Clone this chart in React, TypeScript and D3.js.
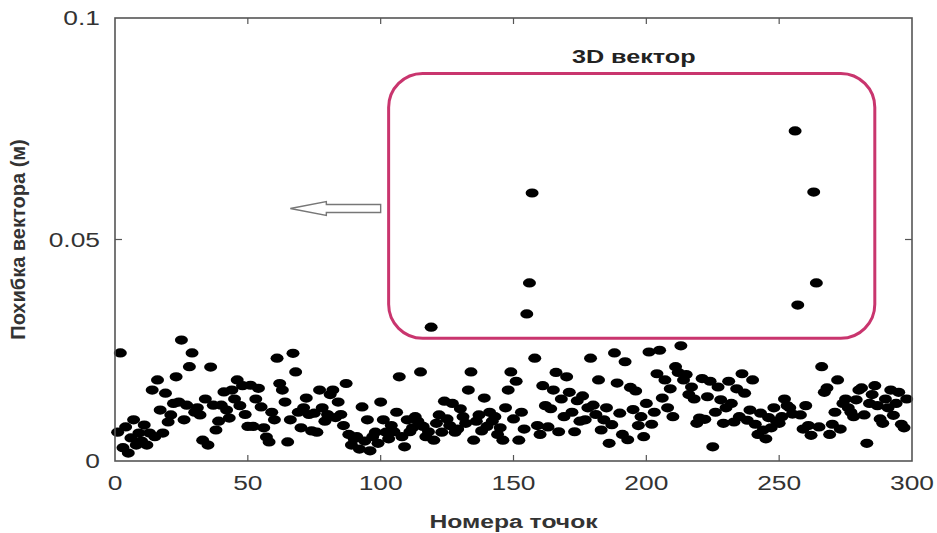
import * as d3 from "d3";
import React from "react";

// point numbers are 1..N, one error value (m) per point
const errors: number[] = [
  0.0065, 0.0244, 0.0030, 0.0077, 0.0018, 0.0052, 0.0093, 0.0036, 0.0063, 0.0045,
  0.0081, 0.0036, 0.0063, 0.0160, 0.0055, 0.0183, 0.0115, 0.0063, 0.0153, 0.0088,
  0.0104, 0.0130, 0.0190, 0.0133, 0.0273, 0.0093, 0.0126, 0.0213, 0.0244, 0.0110,
  0.0120, 0.0104, 0.0047, 0.0140, 0.0036, 0.0212, 0.0126, 0.0070, 0.0090, 0.0126,
  0.0156, 0.0115, 0.0097, 0.0160, 0.0140, 0.0183, 0.0125, 0.0170, 0.0105, 0.0078,
  0.0171, 0.0078, 0.0140, 0.0164, 0.0122, 0.0075, 0.0054, 0.0043, 0.0110, 0.0093,
  0.0232, 0.0175, 0.0160, 0.0133, 0.0043, 0.0093, 0.0243, 0.0201, 0.0110, 0.0075,
  0.0120, 0.0142, 0.0105, 0.0068, 0.0108, 0.0065, 0.0160, 0.0120, 0.0090, 0.0105,
  0.0150, 0.0160, 0.0098, 0.0133, 0.0105, 0.0080, 0.0175, 0.0060, 0.0036, 0.0050,
  0.0055, 0.0027, 0.0122, 0.0045, 0.0093, 0.0023, 0.0055, 0.0065, 0.0040, 0.0133,
  0.0093, 0.0065, 0.0050, 0.0080, 0.0066, 0.0110, 0.0190, 0.0055, 0.0032, 0.0093,
  0.0066, 0.0075, 0.0100, 0.0090, 0.0201, 0.0078, 0.0055, 0.0066, 0.0302, 0.0047,
  0.0085, 0.0104, 0.0065, 0.0135, 0.0095, 0.0080, 0.0130, 0.0065, 0.0072, 0.0118,
  0.0100, 0.0085, 0.0160, 0.0201, 0.0047, 0.0090, 0.0104, 0.0068, 0.0142, 0.0078,
  0.0110, 0.0090, 0.0100, 0.0060, 0.0075, 0.0047, 0.0120, 0.0160, 0.0201, 0.0095,
  0.0180, 0.0047, 0.0110, 0.0072, 0.0332, 0.0402, 0.0605, 0.0232, 0.0080, 0.0060,
  0.0170, 0.0125, 0.0077, 0.0118, 0.0160, 0.0200, 0.0066, 0.0140, 0.0100, 0.0190,
  0.0155, 0.0110, 0.0066, 0.0136, 0.0090, 0.0147, 0.0093, 0.0120, 0.0232, 0.0126,
  0.0105, 0.0183, 0.0070, 0.0093, 0.0120, 0.0040, 0.0082, 0.0244, 0.0176, 0.0108,
  0.0060, 0.0224, 0.0048, 0.0166, 0.0116, 0.0158, 0.0080, 0.0100, 0.0055, 0.0130,
  0.0246, 0.0083, 0.0110, 0.0197, 0.0250, 0.0142, 0.0183, 0.0120, 0.0163, 0.0100,
  0.0213, 0.0200, 0.0260, 0.0183, 0.0195, 0.0150, 0.0167, 0.0140, 0.0085, 0.0097,
  0.0186, 0.0094, 0.0145, 0.0180, 0.0032, 0.0110, 0.0167, 0.0138, 0.0085, 0.0120,
  0.0180, 0.0130, 0.0088, 0.0163, 0.0100, 0.0197, 0.0153, 0.0092, 0.0115, 0.0183,
  0.0083, 0.0060, 0.0108, 0.0070, 0.0050, 0.0098, 0.0075, 0.0120, 0.0090, 0.0085,
  0.0100, 0.0140, 0.0125, 0.0120, 0.0106, 0.0745, 0.0352, 0.0104, 0.0072, 0.0125,
  0.0080, 0.0058, 0.0607, 0.0402, 0.0077, 0.0213, 0.0155, 0.0165, 0.0060, 0.0083,
  0.0110, 0.0183, 0.0072, 0.0130, 0.0140, 0.0120, 0.0110, 0.0100, 0.0138, 0.0160,
  0.0165, 0.0104, 0.0040, 0.0130, 0.0150, 0.0170, 0.0125, 0.0095, 0.0085, 0.0140,
  0.0120, 0.0160, 0.0103, 0.0130, 0.0155, 0.0083, 0.0075, 0.0140,
];

const xTicks = [0, 50, 100, 150, 200, 250, 300];
const yTicks = [0, 0.05, 0.1];
const yTickLabels = ["0", "0.05", "0.1"];

// highlighted region (data coords) and arrow
const boxX = [103, 286];
const boxY = [0.0277, 0.0875];
const arrowX = [66, 100];
const arrowY = 0.057;

const W = 937;
const H = 533;
const margin = { left: 115, right: 25, top: 18, bottom: 72 };
const axisColor = "#555";
const textColor = "#333";
const font = "'Liberation Sans', Arial, sans-serif";
// the source image is stretched sideways, so horizontal text is widened
const stretch = 1.32;

const Label = ({ x, y, anchor = "middle", size, bold = false, sx = stretch, fill = textColor, children }) => (
  <text
    transform={`translate(${x},${y}) scale(${sx},1)`}
    textAnchor={anchor}
    fontSize={size}
    fontWeight={bold ? "bold" : "normal"}
    fill={fill}
  >
    {children}
  </text>
);

export default function App() {
  const x = d3.scaleLinear().domain([0, 300]).range([margin.left, W - margin.right]);
  const y = d3.scaleLinear().domain([0, 0.1]).range([H - margin.bottom, margin.top]);

  const [x0, x1] = x.range();
  const [y0, y1] = y.range();

  const bx = x(boxX[0]);
  const bw = x(boxX[1]) - bx;
  const by = y(boxY[1]);
  const bh = y(boxY[0]) - by;

  // open arrow pointing left
  const ax0 = x(arrowX[0]);
  const ax1 = x(arrowX[1]);
  const ay = y(arrowY);
  const head = 36;
  const arrowPath = [
    [ax0, ay],
    [ax0 + head, ay - 7],
    [ax0 + head, ay - 4],
    [ax1, ay - 4],
    [ax1, ay + 4],
    [ax0 + head, ay + 4],
    [ax0 + head, ay + 7],
  ];

  return (
    <svg
      width={W}
      height={H}
      style={{ position: "absolute", left: 0, top: 0, background: "#fff" }}
      fontFamily={font}
    >
      <defs>
        <filter id="soft" x="-20%" y="-20%" width="140%" height="140%">
          <feGaussianBlur stdDeviation="0.6" />
        </filter>
      </defs>

      {/* points */}
      <g filter="url(#soft)">
        {errors.map((v, i) => (
          <ellipse key={i} cx={x(i + 1)} cy={y(v)} rx={6.5} ry={4.6} fill="#000" />
        ))}
      </g>

      {/* frame */}
      <rect x={x0} y={y1} width={x1 - x0} height={y0 - y1} fill="none" stroke={axisColor} strokeWidth={1.6} />

      {/* ticks */}
      {xTicks.slice(1, -1).map((t) => (
        <g key={"xt" + t}>
          <line x1={x(t)} x2={x(t)} y1={y0} y2={y0 - 6} stroke={axisColor} strokeWidth={1.2} />
          <line x1={x(t)} x2={x(t)} y1={y1} y2={y1 + 6} stroke={axisColor} strokeWidth={1.2} />
        </g>
      ))}
      {yTicks.slice(1, -1).map((t) => (
        <g key={"yt" + t}>
          <line x1={x0} x2={x0 + 7} y1={y(t)} y2={y(t)} stroke={axisColor} strokeWidth={1.2} />
          <line x1={x1} x2={x1 - 7} y1={y(t)} y2={y(t)} stroke={axisColor} strokeWidth={1.2} />
        </g>
      ))}

      {/* tick labels */}
      {xTicks.map((t) => (
        <Label key={"xl" + t} x={x(t)} y={y0 + 29} size={20}>
          {t}
        </Label>
      ))}
      {yTicks.map((t, i) => (
        <Label key={"yl" + t} x={x0 - 15} y={y(t) + 7} anchor="end" size={20}>
          {yTickLabels[i]}
        </Label>
      ))}

      {/* axis titles */}
      <Label x={(x0 + x1) / 2} y={H - 5} size={19} bold sx={1.3}>
        Номера точок
      </Label>
      <text
        transform={`translate(25, ${(y0 + y1) / 2}) rotate(-90)`}
        textAnchor="middle"
        fontSize={20}
        fontWeight="bold"
        fill={textColor}
      >
        Похибка вектора (м)
      </text>

      {/* highlight box */}
      <rect x={bx} y={by} width={bw} height={bh} rx={34} ry={34} fill="none" stroke="#c9356e" strokeWidth={3} />
      <Label x={bx + bw / 2 + 2} y={by - 10} size={18} bold sx={1.4} fill="#222">
        3D вектор
      </Label>

      {/* arrow */}
      <path
        d={d3.line()(arrowPath as [number, number][]) + "Z"}
        fill="#fff"
        stroke="#777"
        strokeWidth={1.4}
      />
    </svg>
  );
}
